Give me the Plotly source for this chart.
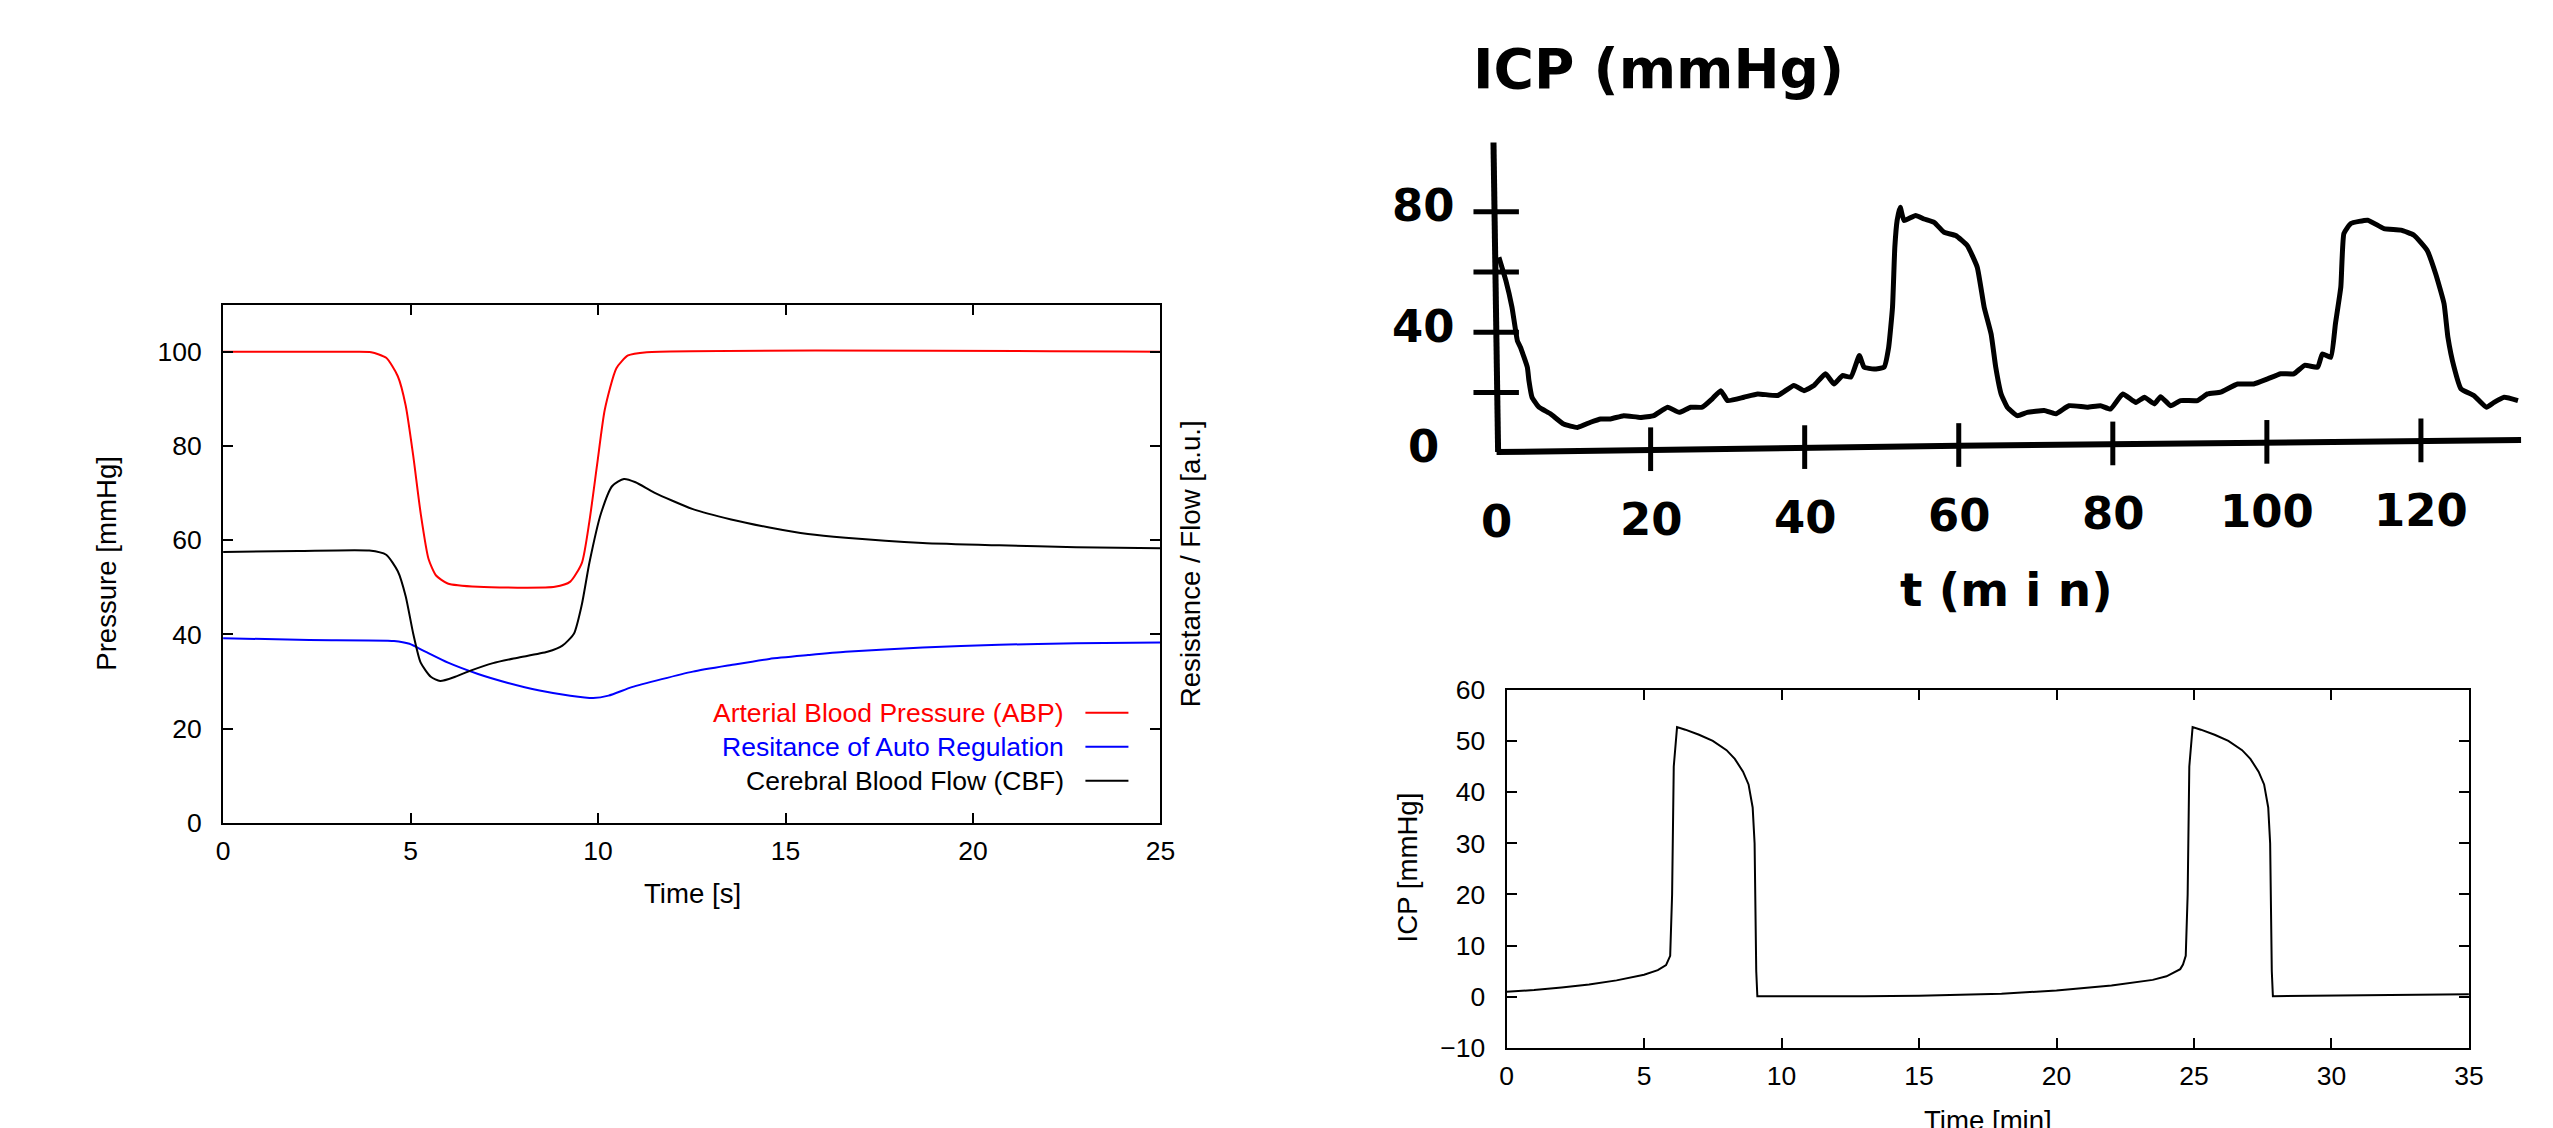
import numpy as np
import plotly.graph_objects as go

W, H = 2553, 1128

# ---------------- Left chart: ABP / resistance / CBF ----------------
abp_t = [0, 3.5, 3.95, 4.35, 4.66, 4.87, 5.07, 5.27, 5.48, 5.68, 5.99, 6.8, 8.85, 9.26, 9.57,
         9.77, 9.98, 10.18, 10.49, 10.8, 11.3, 25]
abp_v = [100, 100, 99.9, 98.7, 94.8, 88.6, 78, 65.7, 56, 52.5, 50.8, 50.1, 50.1, 51.2, 55.2,
         64, 76.3, 87.7, 96.5, 99.2, 99.9, 100]

res_t = [0, 2.3, 4.56, 4.97, 5.38, 6, 6.8, 7.6, 8.44, 9.26, 9.87, 10.28, 10.9, 11.7, 12.53,
         13.55, 14.57, 15.6, 16.6, 18.66, 20.7, 22.75, 25]
res_v = [39.2, 38.8, 38.6, 38, 36.4, 34, 31.6, 29.7, 28.1, 27, 26.5, 27, 28.8, 30.5, 32.1,
         33.5, 34.8, 35.6, 36.3, 37.2, 37.8, 38.1, 38.3]

cbf_t = [0, 2, 3.9, 4.35, 4.66, 4.87, 5.07, 5.27, 5.54, 5.79, 6.19, 6.6, 7.2, 7.83, 8.65, 9.05,
         9.36, 9.57, 9.77, 10.08, 10.38, 10.69, 11.0, 11.5, 12.53, 13.55, 14.57, 15.6, 16.6,
         18.66, 20.7, 22.75, 25]
cbf_v = [57.5, 57.7, 57.8, 56.9, 53.4, 48.1, 40.2, 34, 31, 30.1, 31, 32.3, 33.9, 35, 36.3, 37.6,
         40.2, 46.4, 55.2, 65.7, 71.5, 73, 72.3, 70.1, 66.6, 64.4, 62.7, 61.3, 60.5,
         59.4, 58.9, 58.5, 58.3]

left_series = ["Arterial Blood Pressure (ABP)", "Resitance of Auto Regulation", "Cerebral Blood Flow (CBF)"]
left_colors = ["#ff0000", "#0000ff", "#000000"]
left_xticks = [0, 5, 10, 15, 20, 25]
left_yticks = [0, 20, 40, 60, 80, 100]

# ---------------- Bottom right chart: model ICP ----------------
icp_t = [0, 1, 2, 3, 4, 5, 5.5, 5.8, 5.95, 6.02, 6.08, 6.2, 6.5, 7, 7.5, 8, 8.3, 8.6, 8.8, 8.95,
         9.02, 9.08, 9.12, 11, 13, 15, 17, 18, 20, 22, 23.5, 24.0, 24.5, 24.6, 24.7, 24.77, 24.83,
         24.95, 25.25, 25.75, 26.25, 26.75, 27.05, 27.35, 27.55, 27.7, 27.77, 27.83, 27.87, 30, 35]
icp_v = [1.0, 1.3, 1.8, 2.4, 3.2, 4.3, 5.2, 6.2, 8, 20, 45, 52.7, 52.2, 51.2, 50, 48.2, 46.5, 44,
         41.5, 37, 30, 5, 0.1, 0.05, 0.1, 0.2, 0.45, 0.6, 1.2, 2.2, 3.3, 4.0, 5.4, 6.3, 8, 20, 45,
         52.7, 52.2, 51.2, 50, 48.2, 46.5, 44, 41.5, 37, 30, 5, 0.1, 0.2, 0.5]
icp_xticks = [0, 5, 10, 15, 20, 25, 30, 35]
icp_yticks = [-10, 0, 10, 20, 30, 40, 50, 60]

# ---------------- Top right: scanned measured ICP ----------------
scan_t = [0.3, 1.2, 2.0, 2.7, 3.1, 4.0, 4.2, 4.6, 5.5, 7.0, 8.7, 10.5, 12.2, 13.5, 14.8, 16.5,
          18.7, 20.4, 22.2, 23.7, 25.2, 26.7, 28.0, 29.1, 30.0, 32.1, 33.9, 36.5, 38.6, 39.9,
          41.2, 42.7, 43.8, 44.9, 46.0, 47.1, 47.7, 49.0, 50.3, 50.9, 51.4, 51.7, 52.0, 52.4,
          52.9, 54.4, 55.5, 56.8, 58.1, 59.6, 61.1, 62.4, 63.3, 64.2, 64.8, 65.5, 66.3, 67.6,
          68.9, 71.1, 72.6, 74.3, 76.7, 78.4, 79.7, 81.3, 83.0, 84.1, 85.4, 86.2, 87.5, 88.8,
          91.0, 92.3, 94.0, 96.2, 98.3, 100.1, 101.8, 103.5, 104.9, 106.6, 107.2, 108.3, 108.9,
          109.6, 110.0, 110.9, 113.1, 115.2, 117.4, 119.1, 120.8, 121.9, 123.0, 123.5, 124.3,
          125.2, 126.9, 128.5, 129.5, 130.8, 132.6]
scan_v = [64.9, 57.2, 48.3, 37.2, 35.0, 28.3, 23.9, 18.4, 15.1, 12.9, 9.5, 8.4, 10.1, 11.2, 11.2,
          12.3, 11.7, 12.3, 15.1, 13.4, 15.1, 15.1, 17.9, 20.6, 17.3, 18.4, 19.5, 19.0, 22.3,
          20.6, 22.3, 26.2, 22.8, 25.6, 25.1, 32.3, 28.4, 27.8, 28.4, 35.0, 48.3, 68.2, 77.1,
          81.5, 77.1, 78.8, 77.6, 76.5, 73.2, 72.1, 68.8, 61.6, 48.3, 39.4, 28.4, 19.5, 15.1,
          12.3, 13.4, 14.0, 12.9, 15.6, 15.1, 15.6, 14.5, 19.5, 16.7, 18.4, 16.2, 18.6, 15.6,
          17.3, 17.3, 19.5, 20.1, 22.8, 22.8, 24.5, 26.2, 26.2, 29.0, 28.4, 32.8, 31.7, 42.8,
          55.0, 72.8, 76.1, 77.2, 74.4, 73.9, 72.2, 67.2, 59.5, 49.5, 38.4, 28.4, 21.2, 18.9,
          15.1, 16.7, 18.4, 17.3]
scan_base_t = [0, 60, 133]          # hand-drawn (slightly slanted) time axis
scan_base_v = [0.2, 2.3, 4.2]
scan_yaxis_t = [-0.4, 0.2]          # hand-drawn pressure axis
scan_yaxis_v = [103, 0.2]
scan_ytick_vals = [80, 60, 40, 20]
scan_ylabels = ["80", "40", "0"]
scan_xtick_vals = [20, 40, 60, 80, 100, 120]
scan_xlabels = ["0", "20", "40", "60", "80", "100", "120"]

# page-placement compensation (observed = A * placed + B, in pixels)
AX, BX = 0.991, 15.0
AY, BY = 0.973, 22.5
FS = 1.0 / 0.98


def px(x):
    return ((x - BX) / AX) / W


def py(y):
    return 1 - ((y - BY) / AY) / H


def fs(s):
    return round(s * FS, 1)


FONT = "Liberation Sans, Arial, sans-serif"
SCANFONT = "DejaVu Sans, sans-serif"

fig = go.Figure()

for t, v, c, n in zip([abp_t, res_t, cbf_t], [abp_v, res_v, cbf_v], left_colors, left_series):
    fig.add_trace(go.Scatter(x=t, y=v, mode="lines", name=n, xaxis="x", yaxis="y",
                             line=dict(color=c, width=2, shape="spline", smoothing=0.6)))

fig.add_trace(go.Scatter(x=icp_t, y=icp_v, mode="lines", name="ICP", xaxis="x2", yaxis="y2",
                         line=dict(color="black", width=2)))

base_at = lambda t: float(np.interp(t, scan_base_t, scan_base_v))
fig.add_trace(go.Scatter(x=scan_base_t, y=scan_base_v, mode="lines", xaxis="x3", yaxis="y3",
                         line=dict(color="black", width=6)))
fig.add_trace(go.Scatter(x=scan_yaxis_t, y=scan_yaxis_v, mode="lines", xaxis="x3", yaxis="y3",
                         line=dict(color="black", width=6)))
yt_x, yt_y = [], []
for v in scan_ytick_vals:
    yt_x += [-3.0, 2.9, None]
    yt_y += [v, v, None]
fig.add_trace(go.Scatter(x=yt_x, y=yt_y, mode="lines", xaxis="x3", yaxis="y3",
                         line=dict(color="black", width=5)))
xt_x, xt_y = [], []
for t in scan_xtick_vals:
    b = base_at(t)
    xt_x += [t, t, None]
    xt_y += [b - 7, b + 7.5, None]
fig.add_trace(go.Scatter(x=xt_x, y=xt_y, mode="lines", xaxis="x3", yaxis="y3",
                         line=dict(color="black", width=5)))
fig.add_trace(go.Scatter(x=scan_t, y=scan_v, mode="lines", xaxis="x3", yaxis="y3",
                         line=dict(color="black", width=5, shape="spline", smoothing=0.4)))

ann = []
for lab in scan_ylabels:
    v = float(lab)
    ann.append(dict(x=-9.5, y=v + 2, xref="x3", yref="y3", text="<b>%s</b>" % lab, showarrow=False,
                    xanchor="center", yanchor="middle",
                    font=dict(family=SCANFONT, size=fs(44), color="black")))
for lab in scan_xlabels:
    t = float(lab)
    ann.append(dict(x=t, y=base_at(t) - 23, xref="x3", yref="y3", text="<b>%s</b>" % lab,
                    showarrow=False, xanchor="center", yanchor="middle",
                    font=dict(family=SCANFONT, size=fs(44), color="black")))
ann.append(dict(x=66.2, y=-45.5, xref="x3", yref="y3", text="<b>t (m i n)</b>", showarrow=False,
                xanchor="center", yanchor="middle",
                font=dict(family=SCANFONT, size=fs(46), color="black")))
ann.append(dict(x=px(1470), y=py(68), xref="paper", yref="paper", xanchor="left", yanchor="middle",
                text="<b>ICP (mmHg)</b>", showarrow=False,
                font=dict(family=SCANFONT, size=fs(54), color="black")))


def label(x, y, text, size=27, angle=0, color="black", xanchor="center"):
    ann.append(dict(x=px(x), y=py(y), xref="paper", yref="paper", text=text, textangle=angle,
                    xanchor=xanchor, yanchor="middle", showarrow=False,
                    font=dict(family=FONT, size=fs(size), color=color)))


label(107, 563, "Pressure [mmHg]", angle=-90)
label(1190, 563, "Resistance / Flow [a.u.]", angle=-90)
label(692, 893, "Time [s]")

shapes = []
for i, (n, c) in enumerate(zip(left_series, left_colors)):
    yy = 712 + 34 * i
    label(1066, yy, n, size=26, color=c, xanchor="right")
    shapes.append(dict(type="line", xref="paper", yref="paper", x0=px(1085), x1=px(1128),
                       y0=py(yy), y1=py(yy), line=dict(color=c, width=2)))

label(1407, 867, "ICP [mmHg]", angle=-90)
label(1987, 1120, "Time [min]")

axis_common = dict(showline=True, linecolor="black", linewidth=2, mirror="ticks", ticks="inside",
                   ticklen=10, tickwidth=1.5, tickcolor="black", showgrid=False, zeroline=False,
                   tickfont=dict(family=FONT, size=fs(26), color="black"))
xcommon = dict(axis_common, ticklabelstandoff=3)
ycommon = dict(axis_common, ticklabelstandoff=14)

scan_top, scan_bot = 30, 640
fig.update_layout(
    width=W, height=H, margin=dict(l=0, r=0, t=0, b=0),
    paper_bgcolor="white", plot_bgcolor="white", showlegend=False,
    xaxis=dict(domain=[px(223), px(1160)], range=[0, 25], tickvals=left_xticks, anchor="y",
               **xcommon),
    yaxis=dict(domain=[py(822), py(304)], range=[0, 110], tickvals=left_yticks, anchor="x",
               **ycommon),
    xaxis2=dict(domain=[px(1506), px(2468)], range=[0, 35], tickvals=icp_xticks, anchor="y2",
                **xcommon),
    yaxis2=dict(domain=[py(1047), py(689)], range=[-10, 60], tickvals=icp_yticks, anchor="x2",
                **ycommon),
    xaxis3=dict(domain=[px(1380), px(2540)], range=[(1380 - 1496) / 7.7, (2540 - 1496) / 7.7],
                visible=False, anchor="y3"),
    yaxis3=dict(domain=[py(scan_bot), py(scan_top)],
                range=[(452 - scan_bot) / 3.01, (452 - scan_top) / 3.01], visible=False,
                anchor="x3"),
    annotations=ann, shapes=shapes,
)

fig.write_html("out.html")
